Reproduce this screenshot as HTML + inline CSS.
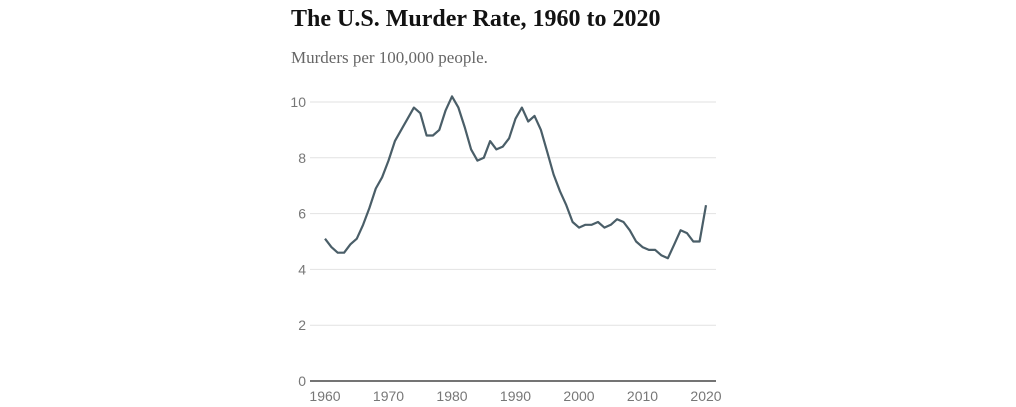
<!DOCTYPE html>
<html><head><meta charset="utf-8"><style>
body{margin:0;background:#fff;width:1016px;height:407px;overflow:hidden;position:relative}
#title{position:absolute;left:291px;top:6px;font:bold 24px "Liberation Serif",serif;color:#121212;margin:0}
#sub{position:absolute;left:291px;top:48px;font:17px "Liberation Serif",serif;color:#666}
svg{position:absolute;left:0;top:0}
</style></head><body>
<h1 id="title">The U.S. Murder Rate, 1960 to 2020</h1>
<div id="sub">Murders per 100,000 people.</div>
<svg width="1016" height="407">
<g id="grid"></g><g id="axes"></g><path id="line" fill="none" stroke="#4a5e68" stroke-width="2.2" stroke-linejoin="round"/>
</svg>
<script>
const years=[];for(let y=1960;y<=2020;y++)years.push(y);
const rates=[5.1,4.8,4.6,4.6,4.9,5.1,5.6,6.2,6.9,7.3,7.9,8.6,9.0,9.4,9.8,9.6,8.8,8.8,9.0,9.7,10.2,9.8,9.1,8.3,7.9,8.0,8.6,8.3,8.4,8.7,9.4,9.8,9.3,9.5,9.0,8.2,7.4,6.8,6.3,5.7,5.5,5.6,5.6,5.7,5.5,5.6,5.8,5.7,5.4,5.0,4.8,4.7,4.7,4.5,4.4,4.9,5.4,5.3,5.0,5.0,6.3];
const yTicks=[0,2,4,6,8,10];
const xTicks=[1960,1970,1980,1990,2000,2010,2020];
const x=v=>325+(v-1960)*(706-325)/60;
const y=v=>381-v*27.9;
const ns="http://www.w3.org/2000/svg";
const grid=document.getElementById('grid'),axes=document.getElementById('axes');
yTicks.forEach(t=>{
 const l=document.createElementNS(ns,'line');
 
 
 l.setAttribute('x1',310);l.setAttribute('x2',716);l.setAttribute('y1',y(t));l.setAttribute('y2',y(t));
 l.setAttribute('stroke',t===0?'#222':'#e2e2e2');l.setAttribute('stroke-width',t===0?1.2:1);
 grid.appendChild(l);
 const tx=document.createElementNS(ns,'text');
 
 
 tx.setAttribute('x',306);tx.setAttribute('y',y(t)+5);tx.setAttribute('text-anchor','end');
 tx.setAttribute('font-family','Liberation Sans, sans-serif');tx.setAttribute('font-size','14');tx.setAttribute('fill','#777');
 tx.textContent=t;axes.appendChild(tx);
});
xTicks.forEach(t=>{
 const tx=document.createElementNS(ns,'text');
 
 
 tx.setAttribute('x',x(t));tx.setAttribute('y',401);tx.setAttribute('text-anchor','middle');
 tx.setAttribute('font-family','Liberation Sans, sans-serif');tx.setAttribute('font-size','14');tx.setAttribute('fill','#777');
 tx.textContent=t;axes.appendChild(tx);
});
const line=document.getElementById('line');


line.setAttribute('d',years.map((yr,i)=>(i?'L':'M')+x(yr).toFixed(1)+','+y(rates[i]).toFixed(1)).join(''));
</script>
</body></html>
